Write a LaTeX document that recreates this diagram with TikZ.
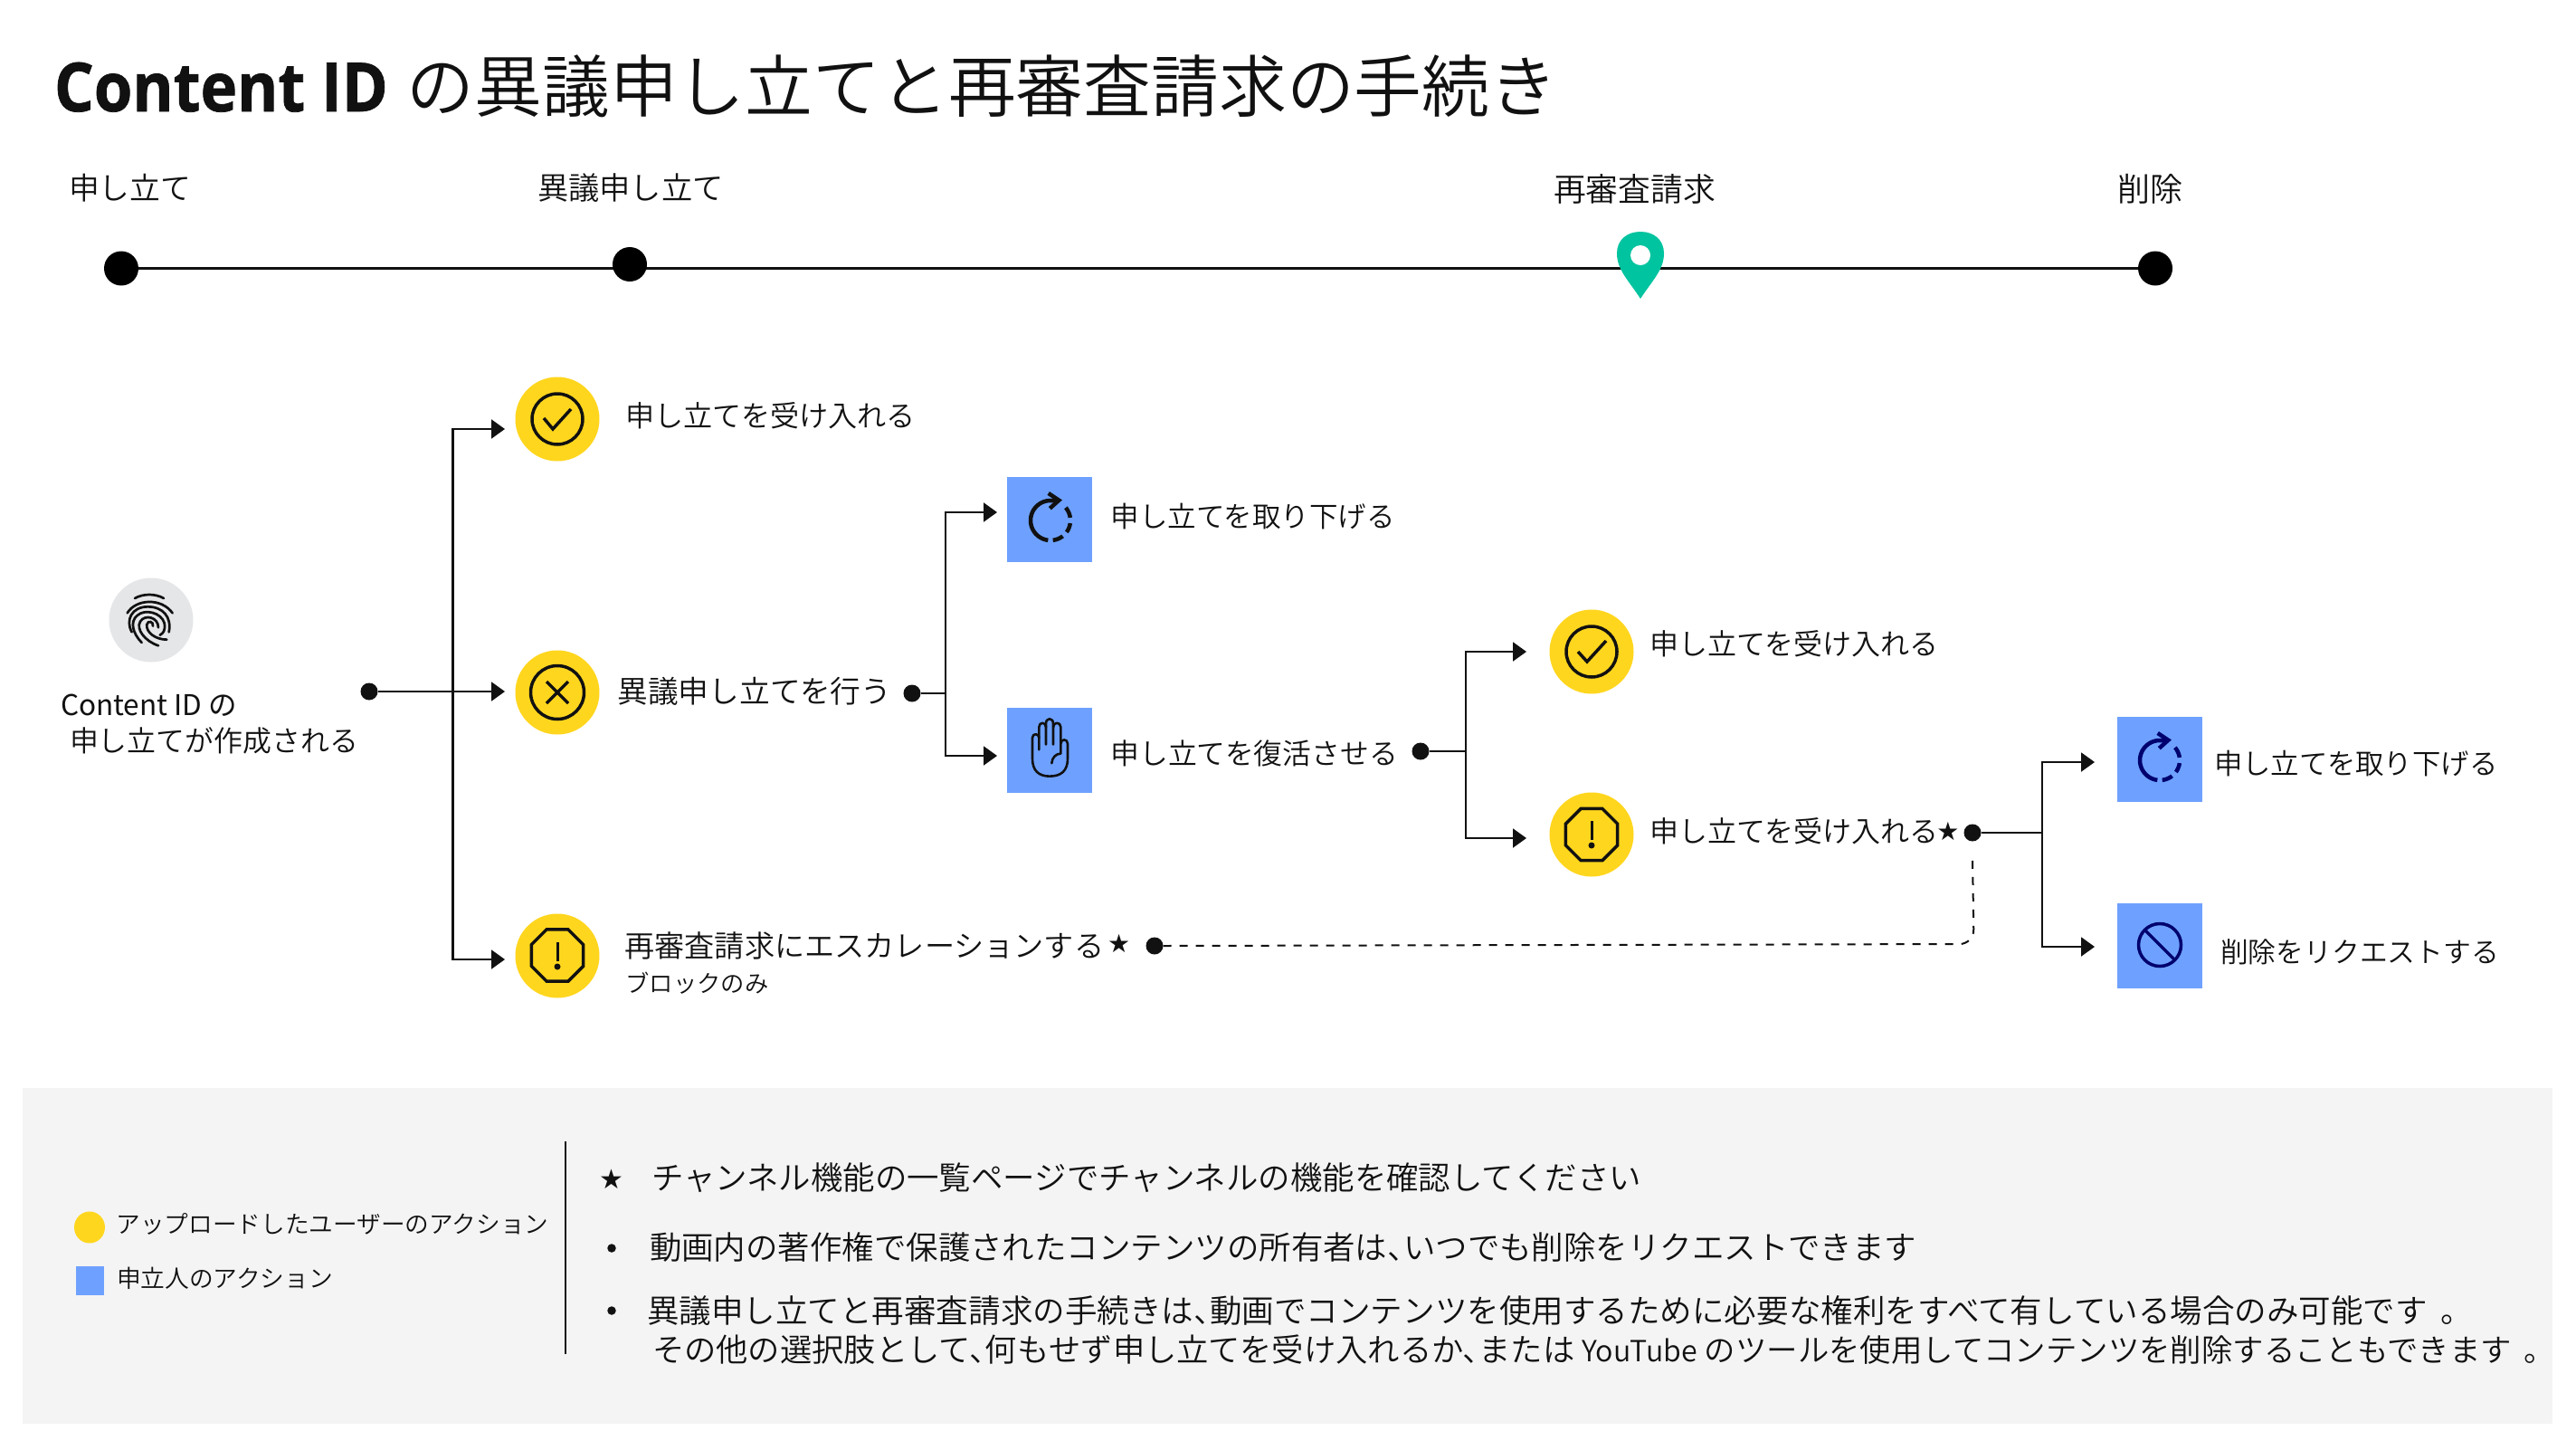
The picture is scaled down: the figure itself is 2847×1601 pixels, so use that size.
\documentclass[tikz,border=0pt]{standalone}
\usepackage{fontspec}
\usetikzlibrary{arrows.meta,shapes.geometric}
\setmainfont{Noto Sans CJK JP}[UprightFont=* DemiLight]
\newfontfamily\jpreg{Noto Sans CJK JP}
\newfontfamily\latbold{Open Sans}[FakeStretch=0.92,FakeBold=1]
\newfontfamily\djv{DejaVu Sans}
\definecolor{ink}{HTML}{111111}
\definecolor{yel}{HTML}{FFD61E}
\definecolor{blu}{HTML}{6EA1FF}
\definecolor{navy}{HTML}{00006E}
\definecolor{teal1}{HTML}{00C4A0}
\definecolor{panel}{HTML}{F4F4F4}
\definecolor{greyc}{HTML}{E5E6E8}
\tikzset{
 txt/.style={inner sep=0pt,outer sep=0pt,text=ink},
 conn/.style={draw=ink,line width=2.1pt},
 arrowline/.style={conn,-{Triangle[length=15pt,width=21pt]}},
 dashline/.style={draw=ink,line width=2pt,dash pattern=on 9pt off 9pt,rounded corners=16pt},
 blackdot/.style={circle,fill=ink,inner sep=0pt,minimum size=19pt},
 tldot/.style={circle,fill=black,inner sep=0pt,minimum size=38pt},
 yelc/.style={circle,fill=yel,inner sep=0pt,minimum size=93pt},
 blusq/.style={rectangle,fill=blu,inner sep=0pt,minimum size=94pt},
 ico/.style={draw=ink,line width=3.5pt},
}
\newcommand{\lab}[5]{\pgfmathsetmacro\bylab{#3+0.38*#4}\node[txt,anchor=base west] (#1) at (#2,\bylab) {\fontsize{#4}{#4}\selectfont #5};}
\newcommand{\arcplot}[6]{\draw[#1] plot[domain=#5:#6,samples=30] ({#2+22*cos(\x)},{#3+22*sin(\x)});}
\newcommand{\refreshicon}[3]{%
 \arcplot{draw=#3,line width=4.5pt}{#1}{#2}{22}{-68}{-263}
 \arcplot{draw=#3,line width=4.5pt}{#1}{#2}{22}{-40}{-8}
 \arcplot{draw=#3,line width=4.5pt}{#1}{#2}{22}{8}{36}
 \arcplot{draw=#3,line width=4.5pt}{#1}{#2}{22}{52}{83}
 \draw[draw=#3,line width=4.5pt] ({#1-2.3},{#2-30}) -- ({#1+9.3},{#2-22.3}) -- ({#1-0.7},{#2-13.3});
}
\newcommand{\tc}{、\kern-.5em}
\newcommand{\maru}{\kern.4em 。}
\newcommand{\starmark}[1]{{\djv\fontsize{#1}{#1}\selectfont ★}}
\begin{document}
\begin{tikzpicture}[x=1pt,y=-1pt]
\useasboundingbox (0,0) rectangle (2847,1601);
\fill[white] (0,0) rectangle (2847,1601);

% title
\node[txt,anchor=base west] (title) at (60,123) {\fontsize{74.8}{74.8}\selectfont{\latbold\bfseries Content ID\ }\kern 3pt の異議申し立てと再審査請求の手続き};

% timeline
\node[tldot] (t1) at (134,296.5) {};
\node[tldot] (t4) at (2382,296.5) {};
\draw[conn,line width=2.2pt] (t1) -- (t4);
\node[tldot] (t2) at (696,292) {};
\fill[teal1] (1813,330) .. controls (1800,310) and (1787,298) .. (1787,280) .. controls (1787,265) and (1798,256) .. (1813,256) .. controls (1828,256) and (1839,265) .. (1839,280) .. controls (1839,298) and (1826,310) .. (1813,330) -- cycle;
\fill[white] (1813,282) circle[radius=11];
\lab{lt1}{76}{207.5}{33.8}{申し立て}
\lab{lt2}{594}{207.5}{34.3}{異議申し立て}
\lab{lt3}{1717}{208.5}{35.8}{再審査請求}
\lab{lt4}{2340}{208.5}{36}{削除}

% source
\node[circle,fill=greyc,inner sep=0pt,minimum size=93pt] (src) at (167,685) {};
\begin{scope}[shift={(125pt,-645pt)},x=.3333pt,y=-.3333pt,draw=ink,line width=2.7pt,line cap=round]
 \draw (72,48) .. controls (100,32) and (140,32) .. (168,48);
 \draw (47,97) .. controls (75,50) and (160,45) .. (197,97);
 \draw (62,160) .. controls (40,120) and (62,76) .. (115,76) .. controls (165,76) and (195,110) .. (185,160);
 \draw (95,195) .. controls (65,165) and (55,125) .. (80,105) .. controls (105,82) and (160,95) .. (170,130) .. controls (175,155) and (165,165) .. (155,170);
 \draw (150,205) .. controls (105,190) and (75,150) .. (90,125) .. controls (105,100) and (150,110) .. (150,145);
 \draw (178,185) .. controls (140,185) and (108,160) .. (112,135) .. controls (115,120) and (135,125) .. (132,140);
\end{scope}
\lab{s1}{67}{779}{31.5}{\jpreg Content ID の}
\lab{s2}{77}{818}{31.9}{申し立てが作成される}

% connection points
\node[blackdot] (d1) at (408,764) {};
\node[blackdot] (d2) at (1008,766) {};
\node[blackdot] (d3) at (1570,830) {};
\node[blackdot] (d4) at (1276,1045) {};
\node[blackdot] (d5) at (2180,920) {};
\coordinate (j1) at (500.5,764);
\coordinate (j2) at (1045,766);
\coordinate (j3) at (1620,830);
\coordinate (j4) at (2257,920);
\coordinate (a1) at (558,474);
\coordinate (a2) at (558,764);
\coordinate (a3) at (558,1060);
\coordinate (a4) at (1102,566);
\coordinate (a5) at (1102,835);
\coordinate (a6) at (1687,720);
\coordinate (a7) at (1687,926);
\coordinate (a8) at (2315,842);
\coordinate (a9) at (2315,1046);
\coordinate (dc) at (2181.5,1043);
\draw[arrowline] (d1) -- (a2);
\draw[arrowline] (j1) |- (a1);
\draw[arrowline] (j1) |- (a3);
\draw[conn] (d2) -- (j2);
\draw[arrowline] (j2) |- (a4);
\draw[arrowline] (j2) |- (a5);
\draw[conn] (d3) -- (j3);
\draw[arrowline] (j3) |- (a6);
\draw[arrowline] (j3) |- (a7);
\draw[conn] (d5) -- (j4);
\draw[arrowline] (j4) |- (a8);
\draw[arrowline] (j4) |- (a9);
\draw[dashline] (d4.east) -- (dc) -- ([yshift=-16pt]d5.south);

% yellow nodes
\node[yelc] (y1) at (616,463) {};
\draw[ico] (616,463) circle[radius=28];
\draw[ico] (601,462) -- (611,474) -- (631,452);
\node[yelc] (y2) at (616,765) {};
\draw[ico] (616,765) circle[radius=29.5];
\draw[ico] (604,753) -- (628,777) (628,753) -- (604,777);
\node[yelc] (y3) at (616,1056) {};
\node[regular polygon,regular polygon sides=8,shape border rotate=0,draw=ink,line width=3.5pt,inner sep=0pt,minimum size=62pt] (o1) at (616,1055.5) {};
\draw[ink,line width=3pt] (616,1041) -- (616,1062);
\fill[ink] (616,1068) circle[radius=3.5];
\node[yelc] (y4) at (1759,720) {};
\draw[ico] (1759,720) circle[radius=28];
\draw[ico] (1744,720) -- (1754,731) -- (1775,708);
\node[yelc] (y5) at (1759,922) {};
\node[regular polygon,regular polygon sides=8,draw=ink,line width=3.5pt,inner sep=0pt,minimum size=62pt] (o2) at (1759,922) {};
\draw[ink,line width=3pt] (1759,907) -- (1759,928);
\fill[ink] (1759,934) circle[radius=3.5];

% blue nodes
\node[blusq] (b1) at (1160,573.5) {};
\refreshicon{1161}{575}{ink}
\node[blusq] (b2) at (1160,829) {};
\begin{scope}[shift={(1080pt,-510pt)},x=.3333pt,y=-.3333pt,draw=ink,line width=2.6pt,line cap=round,line join=round]
 \draw (205,955) -- (205,915) .. controls (205,900) and (183,900) .. (183,915) -- (183,985) .. controls (183,1025) and (205,1043) .. (240,1043) .. controls (278,1043) and (300,1025) .. (300,985) -- (300,935) .. controls (300,918) and (277,918) .. (277,935);
 \draw (205,915) -- (205,880) .. controls (205,862) and (228,862) .. (228,880) -- (228,938);
 \draw (228,880) -- (228,868) .. controls (228,848) and (252,848) .. (252,868) -- (252,938);
 \draw (252,880) .. controls (252,862) and (277,862) .. (277,880) -- (277,968) .. controls (262,968) and (248,980) .. (247,1000);
\end{scope}
\node[blusq] (b3) at (2386.5,839) {};
\refreshicon{2387}{840}{navy}
\node[blusq] (b4) at (2386.5,1045) {};
\draw[draw=navy,line width=3.5pt] (2387,1044) circle[radius=23.5];
\draw[draw=navy,line width=3.5pt] (2370,1027) -- (2404,1061);

% labels
\lab{l1}{691.5}{459}{32.1}{申し立てを受け入れる}
\lab{l2}{682.5}{763.5}{33.7}{異議申し立てを行う}
\lab{l3}{690.5}{1045}{33.15}{再審査請求にエスカレーションする\kern 4pt\raisebox{5pt}{\starmark{28}}}
\lab{l3b}{691.5}{1086}{26.3}{ブロックのみ}
\lab{l4}{1227.5}{571}{31.5}{申し立てを取り下げる}
\lab{l5}{1227.5}{832}{31.8}{申し立てを復活させる}
\lab{l6}{1823}{711.5}{32}{申し立てを受け入れる}
\lab{l7}{1823}{918}{32}{申し立てを受け入れる\kern-2pt\raisebox{2pt}{\starmark{28}}}
\lab{l8}{2447}{843.5}{31.4}{申し立てを取り下げる}
\lab{l9}{2454}{1051.5}{30.8}{削除をリクエストする}

% panel
\fill[panel] (25,1202) rectangle (2821,1573);
\node[ellipse,fill=yel,inner sep=0pt,minimum width=34pt,minimum height=35pt] (ly) at (99,1356) {};
\node[rectangle,fill=blu,inner sep=0pt,minimum width=31pt,minimum height=32pt] (lb) at (99.5,1415) {};
\lab{ll1}{128.5}{1352}{26.65}{アップロードしたユーザーのアクション}
\lab{ll2}{129}{1412}{26.7}{申立人のアクション}
\draw[draw=ink,line width=1.3pt] (625,1261) -- (625,1496);
\node[txt] (st) at (676,1303) {\starmark{30}};
\node[circle,fill=ink,inner sep=0pt,minimum size=9.5pt] (bu1) at (676,1379) {};
\node[circle,fill=ink,inner sep=0pt,minimum size=9.5pt] (bu2) at (676,1448) {};
\lab{n1}{720}{1301.5}{35.45}{チャンネル機能の一覧ページでチャンネルの機能を確認してください}
\lab{n2}{718}{1378.5}{35.45}{動画内の著作権で保護されたコンテンツの所有者は\tc いつでも削除をリクエストできます}
\lab{n3}{715}{1447.5}{35.55}{異議申し立てと再審査請求の手続きは\tc 動画でコンテンツを使用するために必要な権利をすべて有している場合のみ可能です\maru}
\lab{n4}{721}{1491.5}{35.3}{その他の選択肢として\tc 何もせず申し立てを受け入れるか\tc または {\fontsize{32.2}{32.2}\selectfont YouTube} {\fontsize{34.4}{34.4}\selectfont のツールを使用してコンテンツを削除することもできます\maru}}
\end{tikzpicture}
\end{document}
